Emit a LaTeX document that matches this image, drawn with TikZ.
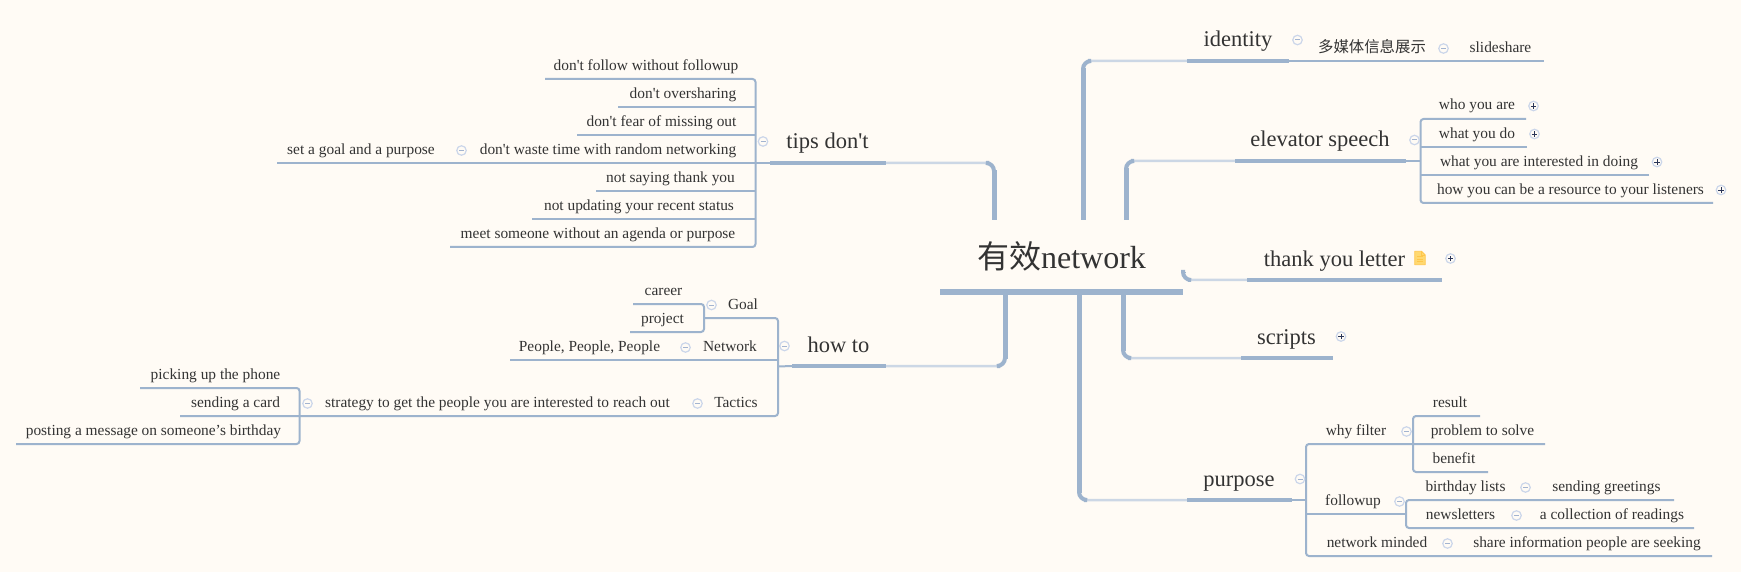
\documentclass[tikz,border=0pt]{standalone}
\usepackage{fontspec}
\newfontfamily\bodyfont{Liberation Serif}
\newfontfamily\cjk{Noto Sans CJK SC}
\usetikzlibrary{calc}
\definecolor{paper}{HTML}{FFFBF5}
\definecolor{ink}{HTML}{333333}
\definecolor{stem}{HTML}{9DB3CD}
\definecolor{pale}{HTML}{CCD7E5}
\definecolor{ring}{HTML}{CBD6EA}
\definecolor{minusc}{HTML}{A3B4D0}
\definecolor{navy}{HTML}{2A3558}
\definecolor{notefill}{HTML}{FFD971}
\definecolor{noteline}{HTML}{FFC64A}
\tikzset{
  leaf/.style={anchor=base,inner sep=0pt,text=ink,font=\bodyfont\fontsize{15.4}{18}\selectfont},
  topic/.style={anchor=base,inner sep=0pt,text=ink,font=\bodyfont\fontsize{22.5}{27}\selectfont},
  twig/.style={stem,line width=2pt},
  branch/.style={twig,rounded corners=3pt},
  topicline/.style={stem,line width=4pt},
  spokefar/.style={pale,line width=2.5pt,rounded corners=8pt},
  spokebend/.style={stem,line width=4pt,rounded corners=8pt},
  spokenear/.style={stem,line width=5pt},
  fold/.style={circle,minimum size=9.5pt,inner sep=0pt,draw=ring,line width=1.2pt,fill=paper},
  opened/.style={fold,path picture={\draw[minusc,line width=1pt] ([xshift=-2.5pt]path picture bounding box.center) -- ([xshift=2.5pt]path picture bounding box.center);}},
  closed/.style={fold,path picture={\draw[navy,line width=0.8pt]
    ([xshift=-2.6pt]path picture bounding box.center) -- ([xshift=2.6pt]path picture bounding box.center)
    ([yshift=-2.6pt]path picture bounding box.center) -- ([yshift=2.6pt]path picture bounding box.center);}},
}
\newcommand{\spoke}[2]{%
  \draw[spokefar] (#1) |- (#2);
  \draw[spokebend] ($(#1|-#2)!10pt!(#1)$) -- (#1|-#2) -- ($(#1|-#2)!5pt!(#2)$);
  \draw[spokenear] (#1) -- ($(#1|-#2)!7pt!(#1)$);
}

\begin{document}
\begin{tikzpicture}[x=1pt,y=-1pt]
  \useasboundingbox[fill=paper] (0,0) rectangle (1741,572);

  % the centre
  \node[anchor=base,inner sep=0pt,text=ink,font=\bodyfont\fontsize{32}{38}\selectfont] (root) at (1061.5,269) {{\cjk 有效}network};
  \coordinate (rootl) at (940,292);
  \coordinate (rootr) at (1183,292);
  \coordinate (tipsfoot) at (994,220);
  \coordinate (idfoot) at (1083,220);
  \coordinate (elevfoot) at (1126,220);
  \coordinate (thankfoot) at (1183,272);
  \coordinate (howfoot) at (1005,292);
  \coordinate (purposefoot) at (1079,292);
  \coordinate (scriptsfoot) at (1123,292);

  % topics
  \node[topic] (identity) at (1238,47) {identity};
  \coordinate (idl) at (1187,61);
  \coordinate (idr) at (1289,61);
  \node[topic] (elevator) at (1320,147) {elevator speech};
  \coordinate (elevl) at (1235,161);
  \coordinate (elevr) at (1406,161);
  \node[topic] (thank) at (1334.5,266) {thank you letter};
  \coordinate (thankl) at (1247,280);
  \coordinate (thankr) at (1442,280);
  \node[topic] (scripts) at (1286.5,344) {scripts};
  \coordinate (scriptsl) at (1241,358);
  \coordinate (scriptsr) at (1333,358);
  \node[topic] (purpose) at (1239,486) {purpose};
  \coordinate (purposel) at (1187,500);
  \coordinate (purposer) at (1292,500);
  \node[topic] (tips) at (827.5,149) {tips don't};
  \coordinate (tipsl) at (770,163);
  \coordinate (tipsr) at (886,163);
  \node[topic] (howto) at (838.5,352) {how to};
  \coordinate (howl) at (792,366);
  \coordinate (howr) at (886,366);

  \spoke{tipsfoot}{tipsr}
  \spoke{idfoot}{idl}
  \spoke{elevfoot}{elevl}
  \spoke{thankfoot}{thankl}
  \spoke{howfoot}{howr}
  \spoke{purposefoot}{purposel}
  \spoke{scriptsfoot}{scriptsl}

  \draw[stem,line width=5pt] (rootl) -- (rootr);
  \foreach \a/\b in {idl/idr,elevl/elevr,thankl/thankr,scriptsl/scriptsr,purposel/purposer,tipsl/tipsr,howl/howr}
    \draw[topicline] (\a) -- (\b);

  % identity
  \node[leaf] (media) at (1372,53) {\cjk 多媒体信息展示};
  \node[leaf] (slideshare) at (1500.5,52.5) {slideshare};
  \coordinate (slideend) at (1544,61);
  \draw[twig] (idr) -- (slideend);
  \node[opened] (idfold) at (1297.5,40) {};
  \node[opened] (mediafold) at (1443.5,48.5) {};

  % elevator speech
  \coordinate (elevjoin) at (1420.5,161);
  \node[leaf] (who) at (1477,110) {who you are};
  \coordinate (whoend) at (1526,119);
  \node[leaf] (what) at (1477,139) {what you do};
  \coordinate (whatend) at (1527,147);
  \node[leaf] (doing) at (1539,167) {what you are interested in doing};
  \coordinate (doingend) at (1649,175);
  \node[leaf] (listeners) at (1570.5,195) {how you can be a resource to your listeners};
  \coordinate (listenersend) at (1713,203);
  \draw[twig] (elevr) -- (elevjoin);
  \draw[branch] (whoend) -| (elevjoin) |- (listenersend);
  \draw[twig] (whatend) -- (whatend -| elevjoin);
  \draw[twig] (doingend) -- (doingend -| elevjoin);
  \node[opened] (elevfold) at (1414.5,140) {};
  \node[closed] (whofold) at (1533.5,106) {};
  \node[closed] (whatfold) at (1534.5,134) {};
  \node[closed] (doingfold) at (1657,162) {};
  \node[closed] (listenersfold) at (1721,190) {};

  % thank you letter, with its note
  \begin{scope}[shift={(1420,258)}]
    \filldraw[fill=notefill,draw=noteline,line width=0.8pt,line join=round]
      (-5.2,-6.7) -- (1.5,-6.7) -- (5.2,-3) -- (5.2,6.7) -- (-5.2,6.7) -- cycle;
    \draw[noteline,line width=0.8pt] (-3,-1.6) -- (3,-1.6) (-3,1.2) -- (3,1.2) (-3,3.8) -- (3,3.8) (1.5,-6.7) -- (1.5,-3) -- (5.2,-3);
  \end{scope}
  \node[closed] (thankfold) at (1450.5,258.5) {};
  \node[closed] (scriptsfold) at (1341,336.5) {};

  % purpose
  \coordinate (purposejoin) at (1306,500);
  \coordinate (filterjoin) at (1413,444);
  \coordinate (followjoin) at (1406,514);
  \node[leaf] (why) at (1356,435.5) {why filter};
  \node[leaf] (result) at (1450,407.5) {result};
  \coordinate (resultend) at (1480,416);
  \node[leaf] (problem) at (1482.5,435.5) {problem to solve};
  \coordinate (problemend) at (1545,444);
  \node[leaf] (benefit) at (1454,463.5) {benefit};
  \coordinate (benefitend) at (1488,472);
  \node[leaf] (followup) at (1353,505.5) {followup};
  \node[leaf] (birthday) at (1465.5,491.5) {birthday lists};
  \node[leaf] (greetings) at (1606.5,491.5) {sending greetings};
  \coordinate (greetingsend) at (1674,500);
  \node[leaf] (newsletters) at (1460.5,519.5) {newsletters};
  \node[leaf] (readings) at (1612,519.5) {a collection of readings};
  \coordinate (readingsend) at (1694,528);
  \node[leaf] (minded) at (1377,547.5) {network minded};
  \node[leaf] (seeking) at (1587,547.5) {share information people are seeking};
  \coordinate (seekingend) at (1712,556);
  \draw[twig] (purposer) -- (purposejoin);
  \draw[branch] (problemend) -| (purposejoin) |- (seekingend);
  \draw[twig] (followjoin) -- (followjoin -| purposejoin);
  \draw[branch] (resultend) -| (filterjoin) |- (benefitend);
  \draw[branch] (greetingsend) -| (followjoin) |- (readingsend);
  \node[opened] (purposefold) at (1300,479) {};
  \node[opened] (whyfold) at (1406.5,431.5) {};
  \node[opened] (followfold) at (1399.5,501.5) {};
  \node[opened] (birthdayfold) at (1525.5,487.5) {};
  \node[opened] (newslettersfold) at (1516.5,515.5) {};
  \node[opened] (mindedfold) at (1447.5,543.5) {};

  % tips don't
  \coordinate (tipsjoin) at (755.5,163);
  \node[leaf] (follow) at (646,70.5) {don't follow without followup};
  \coordinate (followend) at (545,79);
  \node[leaf] (oversharing) at (683,98.5) {don't oversharing};
  \coordinate (oversharingend) at (618,107);
  \node[leaf] (missing) at (661.5,126.5) {don't fear of missing out};
  \coordinate (missingend) at (577,135);
  \node[leaf] (waste) at (608,154.5) {don't waste time with random networking};
  \node[leaf] (goalset) at (361,154.5) {set a goal and a purpose};
  \coordinate (wasteend) at (277,163);
  \node[leaf] (saying) at (670.5,182.5) {not saying thank you};
  \coordinate (sayingend) at (596,191);
  \node[leaf] (updating) at (639,210.5) {not updating your recent status};
  \coordinate (updatingend) at (532,219);
  \node[leaf] (meet) at (598,238.5) {meet someone without an agenda or purpose};
  \coordinate (meetend) at (450,247);
  \draw[twig] (wasteend) -- (tipsl);
  \draw[branch] (followend) -| (tipsjoin) |- (meetend);
  \foreach \a in {oversharingend,missingend,sayingend,updatingend}
    \draw[twig] (\a) -- (\a -| tipsjoin);
  \node[opened] (tipsfold) at (763,141.5) {};
  \node[opened] (wastefold) at (461.5,150.5) {};

  % how to
  \coordinate (howjoin) at (778,366.5);
  \coordinate (goaljoin) at (704,318);
  \coordinate (tacticsjoin) at (299.5,416);
  \node[leaf] (goal) at (743,309.5) {Goal};
  \node[leaf] (career) at (663.5,295.5) {career};
  \coordinate (careerend) at (633,304);
  \node[leaf] (project) at (662.5,323.5) {project};
  \coordinate (projectend) at (630,332);
  \node[leaf] (network) at (730,351.5) {Network};
  \node[leaf] (people) at (589.5,351.5) {People, People, People};
  \coordinate (peopleend) at (510,360);
  \node[leaf] (tactics) at (736,407.5) {Tactics};
  \node[leaf] (strategy) at (497.5,407.5) {strategy to get the people you are interested to reach out};
  \node[leaf] (picking) at (215.5,379.5) {picking up the phone};
  \coordinate (pickingend) at (140,388);
  \node[leaf] (card) at (235.5,407.5) {sending a card};
  \coordinate (cardend) at (180,416);
  \node[leaf] (posting) at (153.5,435.5) {posting a message on someone’s birthday};
  \coordinate (postingend) at (16,444);
  \draw[twig] (howjoin) -- (howl);
  \draw[branch] (goaljoin) -| (howjoin) |- (cardend);
  \draw[twig] (peopleend) -- (peopleend -| howjoin);
  \draw[branch] (careerend) -| (goaljoin) |- (projectend);
  \draw[branch] (pickingend) -| (tacticsjoin) |- (postingend);
  \node[opened] (howfold) at (784.5,346) {};
  \node[opened] (goalfold) at (711.5,305) {};
  \node[opened] (networkfold) at (685.5,347.5) {};
  \node[opened] (tacticsfold) at (697.5,403.5) {};
  \node[opened] (strategyfold) at (307.5,403.5) {};
\end{tikzpicture}
\end{document}
